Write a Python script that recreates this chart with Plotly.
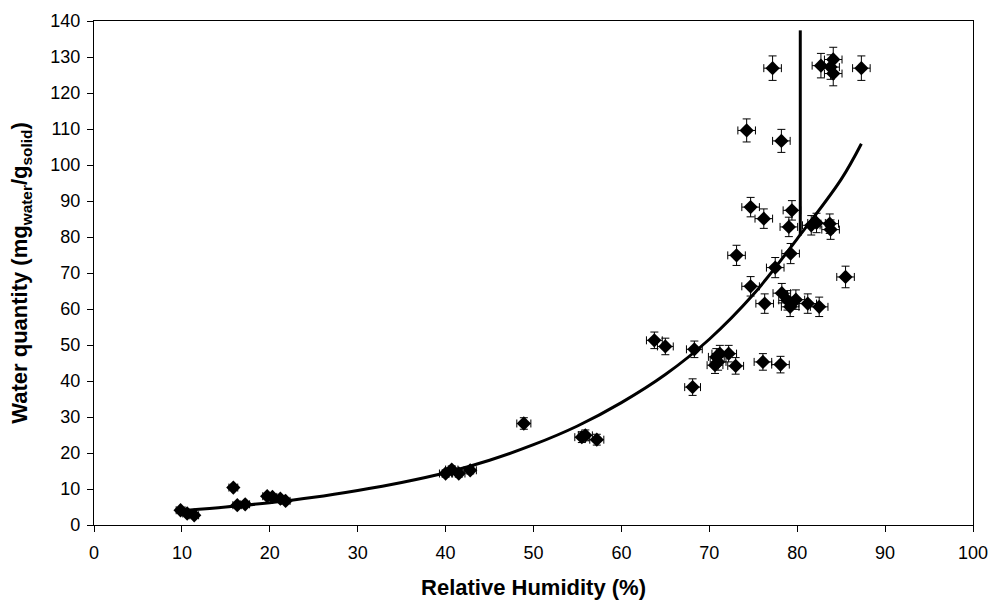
import plotly.graph_objects as go

# Measured points: relative humidity (%) and water quantity (mg water / g solid)
rh = [9.85, 10.6, 11.4, 15.85, 16.3, 17.2, 19.7, 20.3, 21.2, 21.8,
      40.0, 40.7, 41.5, 42.8, 48.9, 55.5, 55.9, 57.2, 63.75, 65.0,
      68.1, 68.3, 70.65, 70.8, 71.0, 71.2, 72.2, 73.0, 73.1, 74.25,
      74.7, 74.7, 76.1, 76.2, 76.3, 77.2, 77.5, 78.1, 78.2, 78.25,
      78.9, 79.05, 79.2, 79.25, 79.4, 79.85, 81.2, 81.6, 82.2, 82.5,
      82.7, 83.7, 83.8, 83.8, 84.1, 84.1, 85.5, 87.3]
water = [4.1, 3.2, 2.7, 10.4, 5.5, 5.75, 8.0, 7.8, 7.3, 6.7,
         14.3, 15.4, 14.3, 15.2, 28.2, 24.4, 24.9, 23.7, 51.3, 49.6,
         38.3, 48.8, 44.4, 46.7, 45.3, 47.6, 47.6, 44.2, 74.9, 109.6,
         88.3, 66.3, 45.3, 85.1, 61.5, 126.9, 71.5, 44.55, 106.7, 64.4,
         62.4, 82.8, 60.6, 75.4, 87.4, 62.6, 61.5, 83.25, 83.9, 60.6,
         127.6, 83.7, 82.05, 127.2, 129.3, 125.4, 68.9, 126.9]
rh_err = [0.5, 0.5, 0.5, 0.5, 0.5, 0.5, 0.5, 0.5, 0.5, 0.5,
          0.7, 0.7, 0.7, 0.7, 0.8, 0.8, 0.8, 0.8, 0.9, 0.9,
          0.9, 0.9, 0.9, 0.9, 0.9, 0.9, 0.9, 0.9, 1.0, 1.0,
          1.0, 1.0, 1.0, 1.0, 1.0, 1.0, 1.0, 1.0, 1.0, 1.0,
          1.0, 1.0, 1.0, 1.0, 1.0, 1.0, 1.0, 1.0, 1.0, 1.0,
          1.0, 1.0, 1.0, 1.0, 1.0, 1.0, 1.0, 1.0]
water_err = [0.5, 0.5, 0.5, 0.6, 0.5, 0.5, 0.5, 0.5, 0.5, 0.5,
             1.0, 1.0, 1.0, 1.0, 1.6, 1.5, 1.5, 1.5, 2.3, 2.3,
             2.3, 2.3, 2.3, 2.3, 2.3, 2.3, 2.3, 2.3, 2.8, 3.2,
             2.7, 2.7, 2.3, 2.7, 2.7, 3.4, 2.8, 2.3, 3.2, 2.7,
             2.7, 2.7, 2.7, 2.8, 2.7, 2.7, 2.7, 2.7, 2.7, 2.7,
             3.4, 2.7, 2.7, 3.4, 3.4, 3.4, 3.0, 3.4]

# Fitted curve
fit_rh = [10.6, 15, 20, 25, 30, 35, 40, 45, 50, 55, 60, 65, 70, 75, 80, 85, 87.3]
fit_water = [4.1, 5.0, 6.2, 7.7, 9.6, 11.8, 14.5, 18.0, 22.3, 27.5,
             34.0, 41.8, 51.6, 64.0, 79.5, 96.0, 105.9]

# Vertical line segment
vline_rh = [80.35, 80.35]
vline_water = [80.4, 137.4]

x_ticks = [0, 10, 20, 30, 40, 50, 60, 70, 80, 90, 100]
y_ticks = [0, 10, 20, 30, 40, 50, 60, 70, 80, 90, 100, 110, 120, 130, 140]

FONT = "Liberation Sans, Arial, sans-serif"

fig = go.Figure()
fig.add_trace(go.Scatter(
    x=fit_rh, y=fit_water, mode="lines", line=dict(color="black", width=3, shape="spline"),
    showlegend=False, hoverinfo="skip"))
fig.add_trace(go.Scatter(
    x=vline_rh, y=vline_water, mode="lines", line=dict(color="black", width=3),
    showlegend=False, hoverinfo="skip"))
fig.add_trace(go.Scatter(
    x=rh, y=water, mode="markers",
    marker=dict(symbol="diamond", size=11, color="black"),
    error_x=dict(type="data", array=rh_err, color="black", thickness=1, width=4),
    error_y=dict(type="data", array=water_err, color="black", thickness=1, width=4),
    showlegend=False))

fig.update_layout(
    width=990, height=603,
    margin=dict(l=94, r=17, t=21, b=78),
    paper_bgcolor="white", plot_bgcolor="white",
    font=dict(family=FONT, color="black", size=18),
)
fig.update_xaxes(
    range=[0, 100], tickvals=x_ticks, ticks="outside", ticklen=6, tickcolor="black",
    showline=True, linecolor="black", linewidth=1.3, mirror=True, showgrid=False, zeroline=False,
    tickfont=dict(size=18), ticklabelstandoff=5, automargin=False,
    title=dict(text="<b>Relative Humidity (%)</b>", font=dict(size=22), standoff=17),
)
fig.update_yaxes(
    range=[0, 140], tickvals=y_ticks, ticks="outside", ticklen=6, tickcolor="black",
    showline=True, linecolor="black", linewidth=1.3, mirror=True, showgrid=False, zeroline=False,
    tickfont=dict(size=18), ticklabelstandoff=3, automargin=False,
    title=dict(text="<b>Water quantity (mg<sub>water</sub>/g<sub>solid</sub>)</b>",
               font=dict(size=22), standoff=16),
)

fig.write_html("out.html")
